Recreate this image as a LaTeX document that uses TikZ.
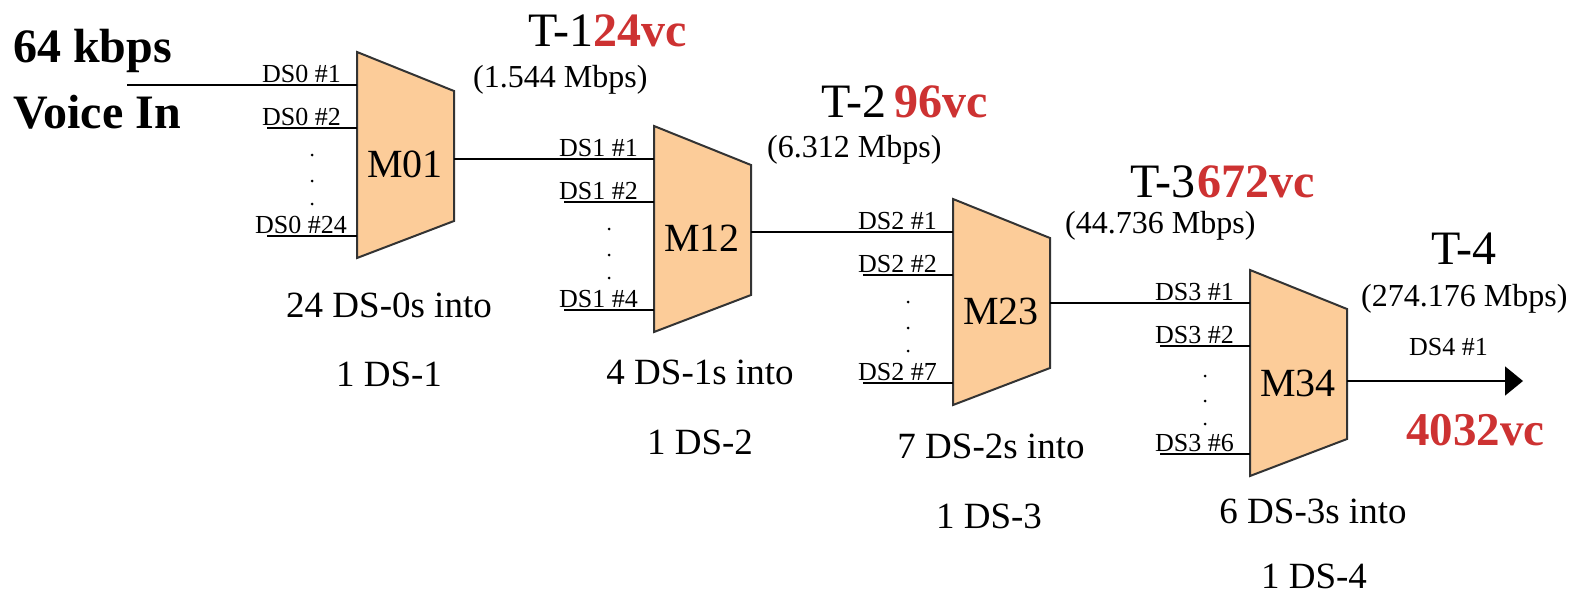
\documentclass[tikz,border=0pt]{standalone}
\usepackage{fontspec}
\setmainfont{Liberation Serif}
\usetikzlibrary{calc,arrows.meta}
\definecolor{muxfill}{RGB}{252,204,153}
\definecolor{vcred}{RGB}{205,50,50}

\begin{document}
\begin{tikzpicture}[x=1pt, y=-1pt,
        mux/.style = {draw=black!80, line width=2pt, fill=muxfill},
        wire/.style = {draw, line width=1.6pt},
        dslabel/.style = {anchor=base east, inner sep=0pt, font=\fontsize{26}{28}\selectfont},
        muxname/.style = {inner sep=0pt, font=\fontsize{40}{42}\selectfont},
        tlabel/.style = {anchor=base west, inner sep=0pt, font=\fontsize{48}{50}\selectfont},
        rate/.style = {anchor=base west, inner sep=0pt, font=\fontsize{32}{34}\selectfont},
        into/.style = {anchor=base, inner sep=0pt, font=\fontsize{37}{39}\selectfont}]
        \useasboundingbox(0,0)rectangle(1586,594);
        % voice in
        \node[tlabel, font=\fontsize{48}{50}\selectfont\bfseries](v1)at(13,63){64 kbps};
        \node[tlabel, font=\fontsize{48}{50}\selectfont\bfseries](v2)at(13,128){Voice In};
        % M01
        \path[mux](357,52)--(454,91)--(454,221)--(357,258)--cycle;
        \node[muxname](m01)at(405,164){M01};
        \coordinate(S01a)at(127,85);
        \coordinate(S01b)at(267,128);
        \coordinate(S01c)at(267,236);
        \coordinate(I01a)at(357,85);
        \coordinate(I01b)at(357,128);
        \coordinate(I01c)at(357,236);
        \path[wire](S01a)to(I01a);
        \path[wire](S01b)to(I01b);
        \path[wire](S01c)to(I01c);
        \node[dslabel](d01a)at($(I01a)+(-16,-3)$){DS0 \#1};
        \node[dslabel](d01b)at($(I01b)+(-16,-3)$){DS0 \#2};
        \node[dslabel](d01c)at($(I01c)+(-10,-3)$){DS0 \#24};
        \path[fill](312,155)circle(1.5pt)(312,181)circle(1.5pt)(312,204)circle(1.5pt);
        % M12
        \path[mux](654,126)--(751,165)--(751,295)--(654,332)--cycle;
        \node[muxname](m12)at(702,238){M12};
        \coordinate(O01)at(454,159);
        \coordinate(S12b)at(564,202);
        \coordinate(S12c)at(564,310);
        \coordinate(I12a)at(654,159);
        \coordinate(I12b)at(654,202);
        \coordinate(I12c)at(654,310);
        \path[wire](O01)to(I12a);
        \path[wire](S12b)to(I12b);
        \path[wire](S12c)to(I12c);
        \node[dslabel](d12a)at($(I12a)+(-16,-3)$){DS1 \#1};
        \node[dslabel](d12b)at($(I12b)+(-16,-3)$){DS1 \#2};
        \node[dslabel](d12c)at($(I12c)+(-16,-3)$){DS1 \#4};
        \path[fill](609,229)circle(1.5pt)(609,255)circle(1.5pt)(609,278)circle(1.5pt);
        % M23
        \path[mux](953,199)--(1050,238)--(1050,368)--(953,405)--cycle;
        \node[muxname](m23)at(1001,311){M23};
        \coordinate(O12)at(751,232);
        \coordinate(S23b)at(863,275);
        \coordinate(S23c)at(863,383);
        \coordinate(I23a)at(953,232);
        \coordinate(I23b)at(953,275);
        \coordinate(I23c)at(953,383);
        \path[wire](O12)to(I23a);
        \path[wire](S23b)to(I23b);
        \path[wire](S23c)to(I23c);
        \node[dslabel](d23a)at($(I23a)+(-16,-3)$){DS2 \#1};
        \node[dslabel](d23b)at($(I23b)+(-16,-3)$){DS2 \#2};
        \node[dslabel](d23c)at($(I23c)+(-16,-3)$){DS2 \#7};
        \path[fill](908,302)circle(1.5pt)(908,328)circle(1.5pt)(908,351)circle(1.5pt);
        % M34
        \path[mux](1250,270)--(1347,309)--(1347,439)--(1250,476)--cycle;
        \node[muxname](m34)at(1298,383){M34};
        \coordinate(O23)at(1050,303);
        \coordinate(S34b)at(1160,346);
        \coordinate(S34c)at(1160,454);
        \coordinate(I34a)at(1250,303);
        \coordinate(I34b)at(1250,346);
        \coordinate(I34c)at(1250,454);
        \path[wire](O23)to(I34a);
        \path[wire](S34b)to(I34b);
        \path[wire](S34c)to(I34c);
        \node[dslabel](d34a)at($(I34a)+(-16,-3)$){DS3 \#1};
        \node[dslabel](d34b)at($(I34b)+(-16,-3)$){DS3 \#2};
        \node[dslabel](d34c)at($(I34c)+(-16,-3)$){DS3 \#6};
        \path[fill](1205,376)circle(1.5pt)(1205,401)circle(1.5pt)(1205,424)circle(1.5pt);
        % out
        \coordinate(O34)at(1347,381);
        \coordinate(E34)at(1523,381);
        \path[wire, -{Triangle[length=18pt, width=29pt]}](O34)to(E34);
        \node[dslabel, anchor=base west](d4)at(1409,355){DS4 \#1};
        \node[tlabel, font=\fontsize{47}{49}\selectfont\bfseries, text=vcred](vc4)at(1406,445){4032vc};
        % T labels
        \node[tlabel](t1)at(528,47){T-1\textcolor{vcred}{\bfseries 24vc}};
        \node[tlabel](t2)at(821,117){T-2\kern8pt\textcolor{vcred}{\bfseries 96vc}};
        \node[tlabel](t3)at(1130,197){T-3\kern2pt\textcolor{vcred}{\bfseries 672vc}};
        \node[tlabel](t4)at(1431,264){T-4};
        \node[rate](r1)at(473,87){(1.544 Mbps)};
        \node[rate](r2)at(767,157){(6.312 Mbps)};
        \node[rate](r3)at(1065,233){(44.736 Mbps)};
        \node[rate](r4)at(1361,306){(274.176 Mbps)};
        % into
        \node[into](n1a)at(389,317){24 DS-0s into};
        \node[into](n1b)at(389,386){1 DS-1};
        \node[into](n2a)at(700,384){4 DS-1s into};
        \node[into](n2b)at(700,454){1 DS-2};
        \node[into](n3a)at(991,458){7 DS-2s into};
        \node[into](n3b)at(989,528){1 DS-3};
        \node[into](n4a)at(1313,523){6 DS-3s into};
        \node[into](n4b)at(1314,588){1 DS-4};
    \end{tikzpicture}
\end{document}
